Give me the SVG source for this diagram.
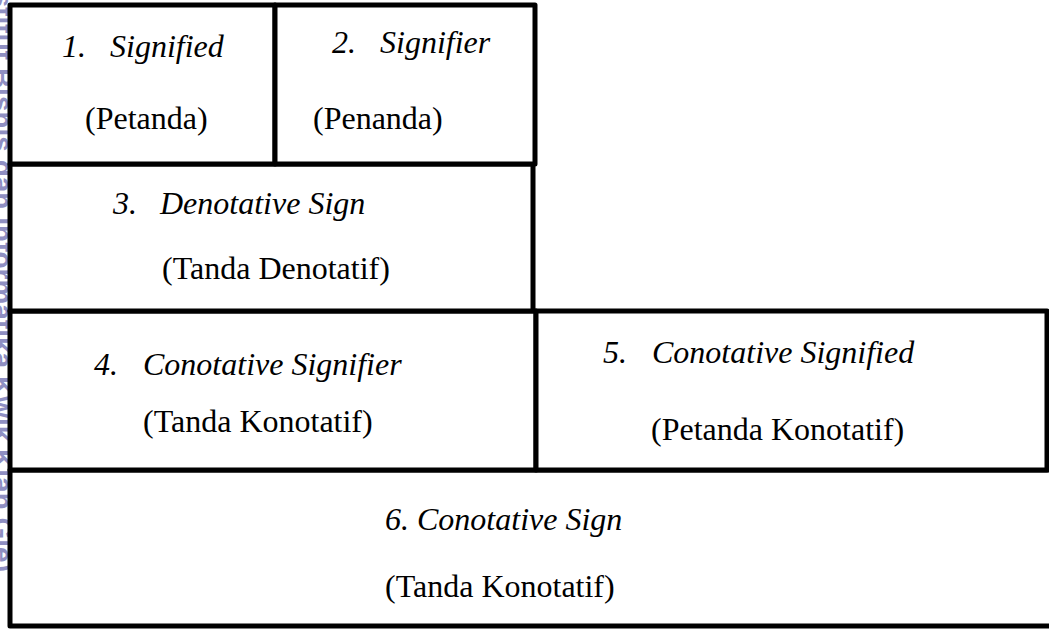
<svg xmlns="http://www.w3.org/2000/svg" width="1049" height="630" viewBox="0 0 1049 630">
<style>
.box{fill:#fff;stroke:#000;stroke-width:5;stroke-linejoin:round}
text{font-family:"Liberation Serif","Times New Roman",serif;font-size:32px;fill:#000}
.it{font-style:italic}
.wm{font-family:"Liberation Sans",Arial,sans-serif;font-size:28px;font-weight:bold;fill:#8f8fc2}
</style>
<rect width="1049" height="630" fill="#fff"/>
<g id="watermark">
<text class="wm" transform="translate(-7,572) rotate(90)" text-anchor="end">Institut Bisnis dan Informatika Kwik Kian Gie)</text>
</g>
<g id="node6">
<rect class="box" x="10" y="470" width="1050" height="156"/>
<text class="it" x="385" y="530">6. Conotative Sign</text>
<text x="385" y="597">(Tanda Konotatif)</text>
</g>
<g id="node4">
<rect class="box" x="10" y="311" width="526" height="159"/>
<text class="it" x="94" y="375">4.</text>
<text class="it" x="143" y="375">Conotative Signifier</text>
<text x="143" y="432">(Tanda Konotatif)</text>
</g>
<g id="node5">
<rect class="box" x="536" y="311" width="511" height="159"/>
<text class="it" x="603" y="363">5.</text>
<text class="it" x="652" y="363">Conotative Signified</text>
<text x="651" y="440">(Petanda Konotatif)</text>
</g>
<g id="node3">
<rect class="box" x="10" y="164" width="523" height="147"/>
<text class="it" x="113" y="214">3.</text>
<text class="it" x="160" y="214">Denotative Sign</text>
<text x="162" y="279">(Tanda Denotatif)</text>
</g>
<g id="node1">
<rect class="box" x="10" y="5" width="265" height="159"/>
<text class="it" x="62" y="57">1.</text>
<text class="it" x="110" y="57">Signified</text>
<text x="85" y="129">(Petanda)</text>
</g>
<g id="node2">
<rect class="box" x="275" y="5" width="260" height="159"/>
<text class="it" x="332" y="53">2.</text>
<text class="it" x="380" y="53">Signifier</text>
<text x="313" y="129">(Penanda)</text>
</g>
</svg>
